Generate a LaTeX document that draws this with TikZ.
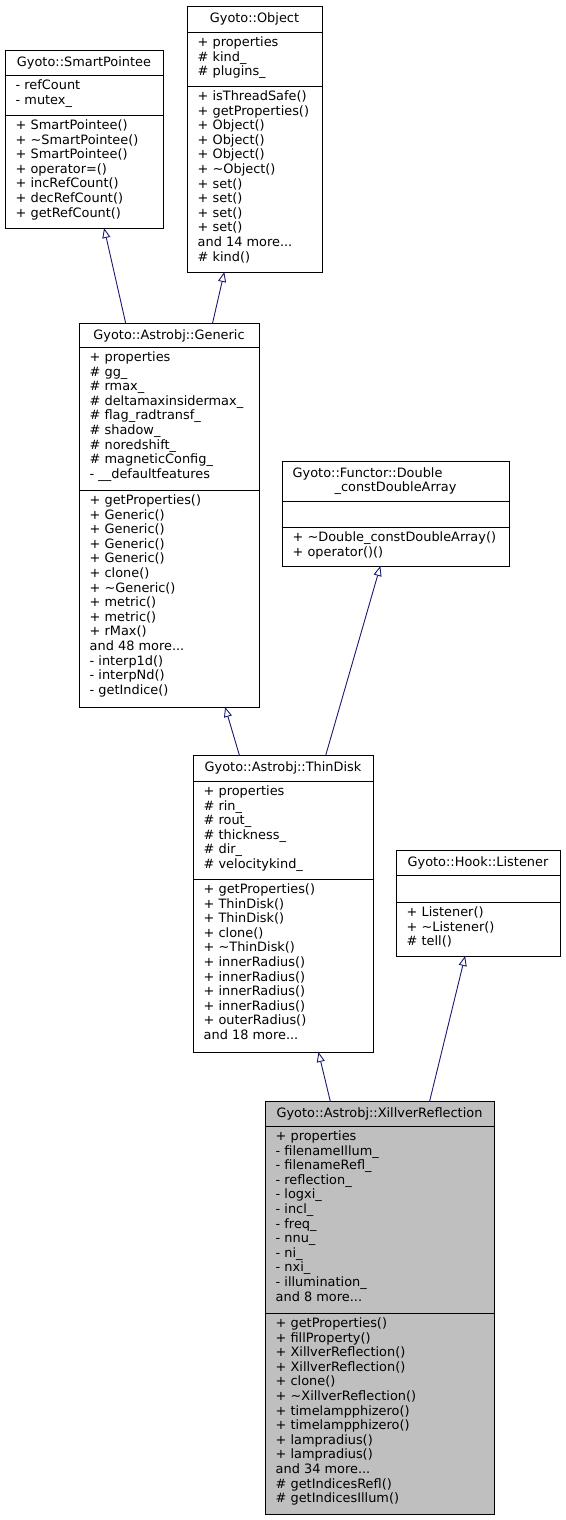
\documentclass[tikz,border=0pt]{standalone}
\usepackage{fontspec}
\usetikzlibrary{arrows.meta}
\newfontfamily\dv{DejaVu Sans}
\newcommand\dvf{\dv\fontsize{12.9pt}{14.6pt}\selectfont}
\definecolor{navyedge}{HTML}{191970}
\definecolor{greyhl}{HTML}{BFBFBF}
\tikzset{
  cls/.style={draw=black, line width=0.9pt, inner sep=0pt, outer sep=0pt, anchor=north west, fill=white},
  hl/.style={fill=greyhl},
  divl/.style={draw=black, line width=0.9pt},
  ttl/.style={font=\dvf, inner sep=0pt, anchor=base},
  mem/.style={font=\dvf, inner sep=0pt, align=left, anchor=north west, execute at begin node={\rule{0pt}{11pt}}},
  inh/.style={draw=navyedge, line width=0.9pt, -{Triangle[open, length=10pt, width=8pt, fill=white]}}
}
\begin{document}
\begin{tikzpicture}[x=1pt,y=-1pt]
\useasboundingbox (0,0) rectangle (565,1520);
% boxes
\node[cls, minimum width=158pt, minimum height=178pt] (sp) at (5,50) {};
\node[cls, minimum width=135pt, minimum height=266pt] (obj) at (187,6) {};
\node[cls, minimum width=180pt, minimum height=384pt] (gen) at (79,323) {};
\node[cls, minimum width=227pt, minimum height=105pt] (fun) at (282,461) {};
\node[cls, minimum width=180pt, minimum height=297pt] (td) at (193,755) {};
\node[cls, minimum width=164pt, minimum height=106pt] (lis) at (396,850) {};
\node[cls, hl, minimum width=229pt, minimum height=413pt] (xil) at (265,1101) {};
% dividers
\draw[divl] (sp.west |- 0,75) -- (sp.east |- 0,75);
\draw[divl] (sp.west |- 0,115) -- (sp.east |- 0,115);
\draw[divl] (obj.west |- 0,32) -- (obj.east |- 0,32);
\draw[divl] (obj.west |- 0,86) -- (obj.east |- 0,86);
\draw[divl] (gen.west |- 0,347) -- (gen.east |- 0,347);
\draw[divl] (gen.west |- 0,490) -- (gen.east |- 0,490);
\draw[divl] (fun.west |- 0,501) -- (fun.east |- 0,501);
\draw[divl] (fun.west |- 0,527) -- (fun.east |- 0,527);
\draw[divl] (td.west |- 0,781) -- (td.east |- 0,781);
\draw[divl] (td.west |- 0,879) -- (td.east |- 0,879);
\draw[divl] (lis.west |- 0,875) -- (lis.east |- 0,875);
\draw[divl] (lis.west |- 0,902) -- (lis.east |- 0,902);
\draw[divl] (xil.west |- 0,1126) -- (xil.east |- 0,1126);
\draw[divl] (xil.west |- 0,1313) -- (xil.east |- 0,1313);
% inheritance
\draw[inh] (gen) -- (sp);
\draw[inh] (gen) -- (obj);
\draw[inh] (td) -- (gen);
\draw[inh] (td) -- (fun);
\draw[inh] (xil) -- (td);
\draw[inh] (xil) -- (lis);
% SmartPointee
\node[ttl] (spt) at (84,66.5) {Gyoto::SmartPointee};
\node[mem] (spa) at (15.5,79.5) {- refCount\\- mutex\_};
\node[mem] (spm) at (15.5,119.5) {+ SmartPointee()\\+ \textasciitilde SmartPointee()\\+ SmartPointee()\\+ operator=()\\+ incRefCount()\\+ decRefCount()\\+ getRefCount()};
% Object
\node[ttl] (objt) at (254.5,22.5) {Gyoto::Object};
\node[mem] (obja) at (197.5,36.5) {+ properties\\\# kind\_\\\# plugins\_};
\node[mem] (objm) at (197.5,90.5) {+ isThreadSafe()\\+ getProperties()\\+ Object()\\+ Object()\\+ Object()\\+ \textasciitilde Object()\\+ set()\\+ set()\\+ set()\\+ set()\\and 14 more...\\\# kind()};
% Generic
\node[ttl] (gent) at (169,339.5) {Gyoto::Astrobj::Generic};
\node[mem] (gena) at (89.5,351.5) {+ properties\\\# gg\_\\\# rmax\_\\\# deltamaxinsidermax\_\\\# flag\_radtransf\_\\\# shadow\_\\\# noredshift\_\\\# magneticConfig\_\\- \_\_defaultfeatures};
\node[mem] (genm) at (89.5,494.5) {+ getProperties()\\+ Generic()\\+ Generic()\\+ Generic()\\+ Generic()\\+ clone()\\+ \textasciitilde Generic()\\+ metric()\\+ metric()\\+ rMax()\\and 48 more...\\- interp1d()\\- interpNd()\\- getIndice()};
% Functor
\node[mem] (funt) at (292.5,466) {Gyoto::Functor::Double};
\node[ttl] (funt2) at (395.5,491.6) {\_constDoubleArray};
\node[mem] (funm) at (292.5,531.5) {+ \textasciitilde Double\_constDoubleArray()\\+ operator()()};
% ThinDisk
\node[ttl] (tdt) at (283,771.5) {Gyoto::Astrobj::ThinDisk};
\node[mem] (tda) at (203.5,785.5) {+ properties\\\# rin\_\\\# rout\_\\\# thickness\_\\\# dir\_\\\# velocitykind\_};
\node[mem] (tdm) at (203.5,883.5) {+ getProperties()\\+ ThinDisk()\\+ ThinDisk()\\+ clone()\\+ \textasciitilde ThinDisk()\\+ innerRadius()\\+ innerRadius()\\+ innerRadius()\\+ innerRadius()\\+ outerRadius()\\and 18 more...};
% Listener
\node[ttl] (list) at (478,866.5) {Gyoto::Hook::Listener};
\node[mem] (lism) at (406.5,906.5) {+ Listener()\\+ \textasciitilde Listener()\\\# tell()};
% XillverReflection
\node[ttl] (xilt) at (379.5,1117.5) {Gyoto::Astrobj::XillverReflection};
\node[mem] (xila) at (275.5,1130.5) {+ properties\\- filenameIllum\_\\- filenameRefl\_\\- reflection\_\\- logxi\_\\- incl\_\\- freq\_\\- nnu\_\\- ni\_\\- nxi\_\\- illumination\_\\and 8 more...};
\node[mem] (xilm) at (275.5,1317.5) {+ getProperties()\\+ fillProperty()\\+ XillverReflection()\\+ XillverReflection()\\+ clone()\\+ \textasciitilde XillverReflection()\\+ timelampphizero()\\+ timelampphizero()\\+ lampradius()\\+ lampradius()\\and 34 more...\\\# getIndicesRefl()\\\# getIndicesIllum()};
\end{tikzpicture}
\end{document}
